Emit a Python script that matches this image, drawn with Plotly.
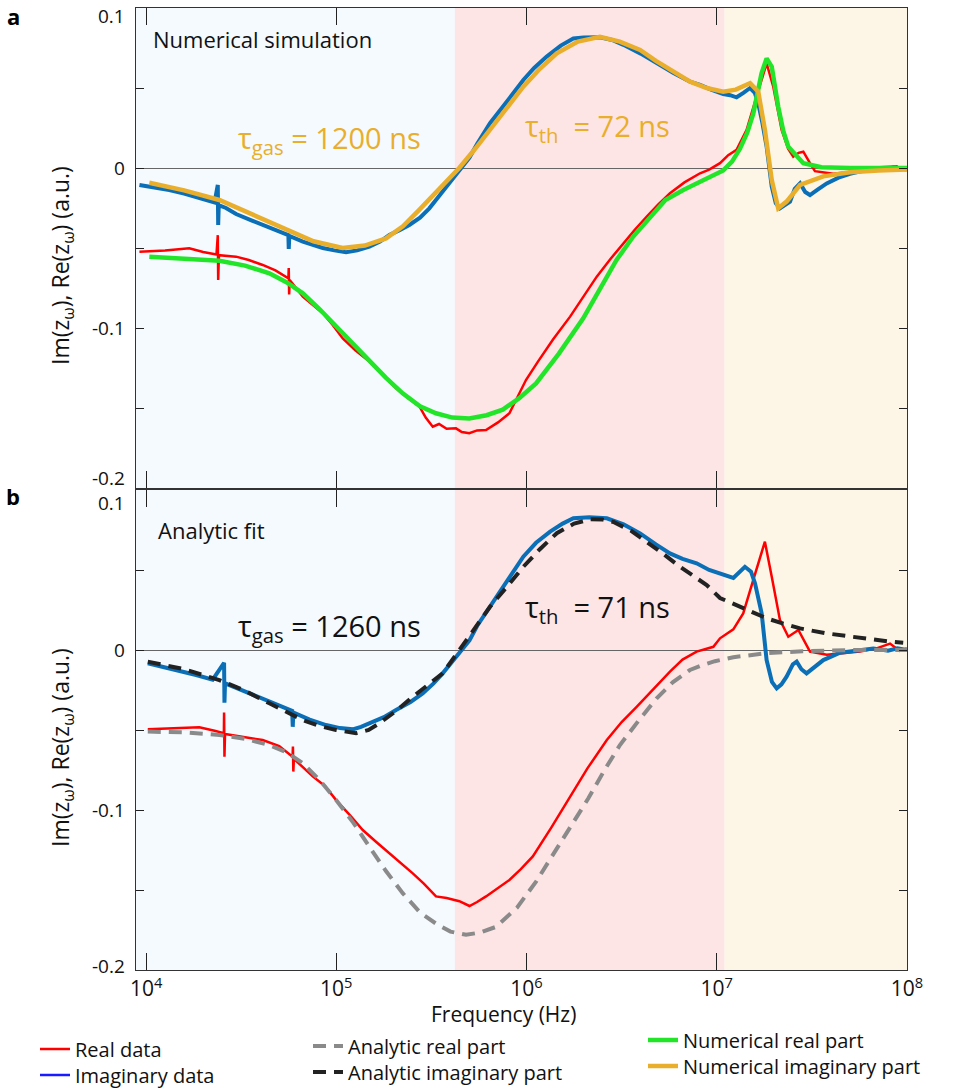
import numpy as np
import plotly.graph_objects as go

# ---------------- data (log10 of frequency in Hz, values in a.u.) ----------------
# Panel a
a_imag_logf = [3.965, 4.05, 4.122, 4.20, 4.298, 4.36, 4.377, 4.379, 4.382, 4.42, 4.473, 4.56, 4.648, 4.70,
               4.748, 4.750, 4.753, 4.824, 4.88, 4.929, 4.99, 5.051, 5.11, 5.174, 5.23, 5.279, 5.33, 5.384,
               5.44, 5.489, 5.53, 5.577, 5.62, 5.656, 5.70, 5.74, 5.808, 5.90, 5.983, 6.04, 6.106, 6.18,
               6.246, 6.30, 6.386, 6.45, 6.509, 6.60, 6.684, 6.77, 6.859, 6.912, 6.97, 7.034, 7.07, 7.104,
               7.14, 7.175, 7.20, 7.218, 7.24, 7.262, 7.289, 7.31, 7.332, 7.36, 7.385, 7.41, 7.438, 7.465,
               7.490, 7.53, 7.578, 7.64, 7.700, 7.78, 7.858, 7.93, 7.998]
a_imag_val = [-0.0106, -0.0120, -0.0138, -0.0160, -0.0190, -0.0215, -0.0106, -0.0356, -0.0232, -0.0250,
              -0.0288, -0.0330, -0.0370, -0.0395, -0.0420, -0.0506, -0.0425, -0.0460, -0.0480, -0.0500,
              -0.0515, -0.0527, -0.0515, -0.0492, -0.0460, -0.0419, -0.0390, -0.0356, -0.0310, -0.0252,
              -0.0190, -0.0117, -0.0055, 0.0, 0.0065, 0.0150, 0.0280, 0.0420, 0.0550, 0.0625, 0.0696,
              0.0765, 0.0810, 0.0815, 0.0817, 0.0800, 0.0770, 0.0715, 0.0654, 0.0595, 0.0540, 0.0520,
              0.0490, 0.0462, 0.0455, 0.0442, 0.0470, 0.0500, 0.0470, 0.0404, 0.0280, 0.0134, -0.0117,
              -0.0220, -0.0252, -0.0230, -0.0210, -0.0130, -0.0096, -0.0150, -0.0169, -0.0135, -0.0096,
              -0.0060, -0.0036, -0.0015, 0.0, 0.0005, -0.0010]

a_real_logf = [3.965, 4.10, 4.227, 4.30, 4.37, 4.377, 4.379, 4.383, 4.473, 4.54, 4.613, 4.68, 4.748, 4.750,
               4.752, 4.755, 4.824, 4.88, 4.929, 4.98, 5.034, 5.10, 5.174, 5.24, 5.314, 5.38, 5.437, 5.47,
               5.507, 5.54, 5.58, 5.629, 5.66, 5.699, 5.74, 5.787, 5.85, 5.910, 5.95, 5.997, 6.06, 6.14,
               6.229, 6.30, 6.369, 6.44, 6.509, 6.57, 6.632, 6.69, 6.754, 6.83, 6.912, 6.96, 7.017, 7.06,
               7.104, 7.157, 7.209, 7.262, 7.297, 7.341, 7.375, 7.402, 7.430, 7.455, 7.49, 7.516, 7.613,
               7.70, 7.788, 7.88, 7.946, 7.97, 8.0]
a_real_val = [-0.0523, -0.0515, -0.0502, -0.0525, -0.0540, -0.0420, -0.0700, -0.0545, -0.0554, -0.0575,
              -0.0606, -0.0640, -0.0690, -0.0625, -0.0790, -0.0700, -0.0804, -0.0860, -0.0908, -0.0980,
              -0.1065, -0.1140, -0.1210, -0.1290, -0.1377, -0.1440, -0.1490, -0.1560, -0.1617, -0.1600,
              -0.1630, -0.1627, -0.1650, -0.1658, -0.1640, -0.1638, -0.1590, -0.1533, -0.1440, -0.1325,
              -0.1210, -0.1070, -0.0929, -0.0800, -0.0679, -0.0570, -0.0470, -0.0385, -0.0304, -0.0230,
              -0.0158, -0.0090, -0.0033, -0.0010, 0.0030, 0.0080, 0.0113, 0.0238, 0.0446, 0.0654, 0.0508,
              0.0238, 0.0120, 0.0071, 0.0095, 0.0102, 0.0030, -0.0020, -0.0036, -0.0025, -0.0020, -0.0005,
              0.0010, -0.0008, -0.0005]

num_real_logf = [4.017, 4.20, 4.385, 4.52, 4.648, 4.74, 4.824, 4.91, 4.999, 5.09, 5.174, 5.26, 5.349, 5.44,
                 5.524, 5.61, 5.699, 5.79, 5.875, 5.96, 6.050, 6.17, 6.298, 6.39, 6.473, 6.56, 6.649, 6.73,
                 6.824, 6.912, 6.98, 7.034, 7.08, 7.122, 7.16, 7.192, 7.235, 7.262, 7.289, 7.323, 7.35,
                 7.376, 7.455, 7.55, 7.70, 8.0]
num_real_val = [-0.0554, -0.0565, -0.0580, -0.0610, -0.0658, -0.0715, -0.0783, -0.0880, -0.0990, -0.1100,
                -0.1200, -0.1310, -0.1408, -0.1490, -0.1533, -0.1560, -0.1565, -0.1545, -0.1510, -0.1440,
                -0.1346, -0.1160, -0.0940, -0.0750, -0.0575, -0.0430, -0.0304, -0.0200, -0.0138, -0.0085,
                -0.0044, -0.0015, 0.0040, 0.0120, 0.0220, 0.0340, 0.0590, 0.0685, 0.0633, 0.0383, 0.0230,
                0.0133, 0.0030, 0.0005, 0.0, 0.0]

num_imag_logf = [4.017, 4.20, 4.385, 4.56, 4.736, 4.88, 5.033, 5.15, 5.261, 5.35, 5.436, 5.54, 5.646, 5.73,
                 5.808, 5.90, 5.983, 6.07, 6.159, 6.27, 6.386, 6.49, 6.597, 6.68, 6.772, 6.86, 6.947, 7.034,
                 7.10, 7.175, 7.218, 7.253, 7.289, 7.323, 7.367, 7.438, 7.56, 7.70, 7.85, 8.0]
num_imag_val = [-0.0092, -0.0140, -0.0200, -0.0290, -0.0383, -0.0458, -0.0500, -0.0485, -0.0440, -0.0365,
                -0.0262, -0.0130, 0.0, 0.0120, 0.0238, 0.0380, 0.0508, 0.0620, 0.0717, 0.0790, 0.0820,
                0.0790, 0.0738, 0.0670, 0.0600, 0.0540, 0.0500, 0.0477, 0.0490, 0.0530, 0.0477, 0.0238,
                -0.0075, -0.0252, -0.0210, -0.0106, -0.0052, -0.0027, -0.0015, -0.0010]

# Panel b
b_imag_logf = [4.009, 4.13, 4.263, 4.35, 4.410, 4.412, 4.415, 4.48, 4.561, 4.67, 4.768, 4.771, 4.774, 4.86,
               4.946, 5.02, 5.086, 5.13, 5.174, 5.25, 5.314, 5.39, 5.454, 5.51, 5.559, 5.61, 5.656, 5.70,
               5.74, 5.808, 5.90, 5.983, 6.05, 6.124, 6.19, 6.246, 6.33, 6.422, 6.51, 6.597, 6.68, 6.754,
               6.82, 6.894, 6.96, 7.034, 7.087, 7.148, 7.18, 7.201, 7.236, 7.262, 7.290, 7.315, 7.34,
               7.367, 7.400, 7.420, 7.445, 7.472, 7.51, 7.560, 7.648, 7.75, 7.823, 7.90, 7.95, 8.0]
b_imag_val = [-0.0083, -0.0115, -0.0156, -0.0185, -0.0080, -0.0330, -0.0208, -0.0240, -0.0280, -0.0335,
              -0.0380, -0.0480, -0.0390, -0.0435, -0.0469, -0.0488, -0.0496, -0.0480, -0.0458, -0.0420,
              -0.0375, -0.0325, -0.0271, -0.0210, -0.0146, -0.0070, 0.0, 0.0060, 0.0150, 0.0270, 0.0440,
              0.0583, 0.0670, 0.0740, 0.0790, 0.0823, 0.0830, 0.0823, 0.0785, 0.0729, 0.0660, 0.0604,
              0.0570, 0.0542, 0.0500, 0.0469, 0.0450, 0.0520, 0.0490, 0.0417, 0.0229, -0.0063, -0.0200,
              -0.0240, -0.0215, -0.0167, -0.0090, -0.0073, -0.0120, -0.0146, -0.0110, -0.0063, -0.0017,
              -0.0003, 0.0010, -0.0005, 0.0010, 0.0]

b_real_logf = [4.009, 4.15, 4.280, 4.36, 4.409, 4.410, 4.412, 4.415, 4.50, 4.613, 4.70, 4.770, 4.772, 4.774,
               4.777, 4.876, 4.94, 4.999, 5.07, 5.139, 5.21, 5.279, 5.34, 5.402, 5.46, 5.524, 5.58, 5.647,
               5.700, 5.74, 5.787, 5.85, 5.910, 5.97, 6.033, 6.13, 6.229, 6.32, 6.422, 6.50, 6.580, 6.67,
               6.754, 6.82, 6.894, 6.982, 7.017, 7.087, 7.139, 7.192, 7.253, 7.289, 7.332, 7.376, 7.429,
               7.490, 7.578, 7.66, 7.753, 7.84, 7.911, 7.96, 8.0]
b_real_val = [-0.0496, -0.0490, -0.0483, -0.0505, -0.0520, -0.0390, -0.0667, -0.0525, -0.0540, -0.0563,
              -0.0600, -0.0667, -0.0604, -0.0760, -0.0680, -0.0790, -0.0850, -0.0938, -0.1030, -0.1125,
              -0.1200, -0.1270, -0.1330, -0.1396, -0.1460, -0.1540, -0.1550, -0.1570, -0.1600, -0.1575,
              -0.1540, -0.1490, -0.1437, -0.1370, -0.1290, -0.1110, -0.0917, -0.0740, -0.0563, -0.0450,
              -0.0354, -0.0240, -0.0135, -0.0060, -0.0010, 0.0020, 0.0073, 0.0129, 0.0229, 0.0438, 0.0677,
              0.0458, 0.0188, 0.0083, 0.0125, -0.0010, -0.0030, -0.0020, -0.0010, 0.0010, 0.0040, -0.0005,
              0.0010]

ana_real_logf = [4.009, 4.20, 4.385, 4.52, 4.648, 4.74, 4.824, 4.91, 4.999, 5.09, 5.174, 5.26, 5.349, 5.44,
                 5.524, 5.60, 5.682, 5.76, 5.840, 5.95, 6.050, 6.19, 6.325, 6.41, 6.491, 6.59, 6.684, 6.77,
                 6.859, 6.912, 6.99, 7.087, 7.18, 7.262, 7.45, 7.70, 8.0]
ana_real_val = [-0.0510, -0.0515, -0.0531, -0.0555, -0.0594, -0.0640, -0.0708, -0.0810, -0.0938, -0.1080,
                -0.1230, -0.1380, -0.1520, -0.1640, -0.1710, -0.1760, -0.1780, -0.1765, -0.1730, -0.1610,
                -0.1448, -0.1180, -0.0927, -0.0750, -0.0594, -0.0440, -0.0302, -0.0200, -0.0125, -0.0100,
                -0.0070, -0.0045, -0.0030, -0.0020, -0.0008, 0.0, 0.0]

ana_imag_logf = [4.009, 4.20, 4.385, 4.52, 4.648, 4.74, 4.824, 4.91, 4.999, 5.104, 5.17, 5.226, 5.31, 5.402,
                 5.48, 5.559, 5.647, 5.73, 5.808, 5.90, 5.983, 6.07, 6.159, 6.25, 6.334, 6.40, 6.457, 6.55,
                 6.632, 6.72, 6.807, 6.88, 6.947, 7.017, 7.087, 7.17, 7.262, 7.35, 7.438, 7.57, 7.700, 7.80,
                 7.911, 7.98]
ana_imag_val = [-0.0073, -0.0120, -0.0188, -0.0255, -0.0333, -0.0390, -0.0438, -0.0475, -0.0500, -0.0520,
                -0.0500, -0.0458, -0.0385, -0.0292, -0.0220, -0.0146, 0.0, 0.0140, 0.0270, 0.0400, 0.0520,
                0.0630, 0.0730, 0.0790, 0.0817, 0.0815, 0.0800, 0.0745, 0.0677, 0.0600, 0.0520, 0.0460,
                0.0406, 0.0325, 0.0290, 0.0245, 0.0198, 0.0165, 0.0135, 0.0105, 0.0083, 0.0068, 0.0052,
                0.0045]

# shaded frequency bands (Hz)
band_edges = [10 ** 3.947, 4.2e5, 1.1e7, 1e8]
band_colors = ["#f4fafd", "#fde5e5", "#fdf6e6"]

x_tickvals = [1e4, 1e5, 1e6, 1e7, 1e8]
x_ticktext = ["10<sup>4</sup>", "10<sup>5</sup>", "10<sup>6</sup>", "10<sup>7</sup>", "10<sup>8</sup>"]
y_tickvals = [-0.2, -0.15, -0.1, -0.05, 0.0, 0.05, 0.1]
y_label_vals = [0.1, 0.0, -0.1, -0.2]
y_label_text = ["0.1", "0", "-0.1", "-0.2"]

# ---------------- colours ----------------
C_RED = "#ff0000"
C_BLUE = "#0b6fb8"
C_GREEN = "#22e52a"
C_ORANGE = "#e9ae2b"
C_GRAY = "#8a8a8a"
C_BLACK = "#222222"
FONT = "Open Sans"


def hz(logf):
    return np.power(10.0, np.array(logf))


fig = go.Figure()

# panel a
fig.add_trace(go.Scatter(x=hz(a_real_logf), y=a_real_val, mode="lines", line=dict(color=C_RED, width=2.5),
                         xaxis="x", yaxis="y", showlegend=False))
fig.add_trace(go.Scatter(x=hz(a_imag_logf), y=a_imag_val, mode="lines", line=dict(color=C_BLUE, width=4),
                         xaxis="x", yaxis="y", showlegend=False))
fig.add_trace(go.Scatter(x=hz(num_real_logf), y=num_real_val, mode="lines", name="Numerical real part",
                         line=dict(color=C_GREEN, width=4.5), xaxis="x", yaxis="y", legend="legend5"))
fig.add_trace(go.Scatter(x=hz(num_imag_logf), y=num_imag_val, mode="lines", name="Numerical imaginary part",
                         line=dict(color=C_ORANGE, width=4.5), xaxis="x", yaxis="y", legend="legend6"))

# panel b
fig.add_trace(go.Scatter(x=hz(b_real_logf), y=b_real_val, mode="lines", name="Real data",
                         line=dict(color=C_RED, width=2.5), xaxis="x2", yaxis="y2", legend="legend"))
fig.add_trace(go.Scatter(x=hz(b_imag_logf), y=b_imag_val, mode="lines", showlegend=False,
                         line=dict(color=C_BLUE, width=4), xaxis="x2", yaxis="y2"))
fig.add_trace(go.Scatter(x=[None], y=[None], mode="lines", name="Imaginary data",
                         line=dict(color="#1a1aff", width=2.5), xaxis="x2", yaxis="y2", legend="legend2"))
fig.add_trace(go.Scatter(x=hz(ana_real_logf), y=ana_real_val, mode="lines", name="Analytic real part",
                         line=dict(color=C_GRAY, width=4, dash="13px,8px"), xaxis="x2", yaxis="y2",
                         legend="legend3"))
fig.add_trace(go.Scatter(x=hz(ana_imag_logf), y=ana_imag_val, mode="lines", name="Analytic imaginary part",
                         line=dict(color=C_BLACK, width=4, dash="13px,8px"), xaxis="x2", yaxis="y2",
                         legend="legend4"))

# geometry helpers (pixel -> paper)
L, R, T, B = 136, 48, 8, 118
W, H = 955, 1088
PW, PH = W - L - R, H - T - B


def px(x):
    return (x - L) / PW


def py(y):
    return (H - B - y) / PH


shapes = []
for xr, yr in (("x", "y domain"), ("x2", "y2 domain")):
    for i, col in enumerate(band_colors):
        shapes.append(dict(type="rect", xref=xr, yref=yr, x0=band_edges[i], x1=band_edges[i + 1], y0=0, y1=1,
                           fillcolor=col, line=dict(width=0), layer="below"))

axis_common = dict(showline=True, linecolor="#333333", linewidth=1.3, mirror="ticks", showgrid=False,
                   ticks="inside", tickcolor="#222222", tickwidth=1.3)

xa = dict(axis_common, type="log", range=[3.947, 8.0], tickvals=x_tickvals, ticktext=x_ticktext,
          ticklen=17, zeroline=False)
ya = dict(axis_common, range=[-0.2, 0.1], tickvals=y_tickvals, ticklen=8, showticklabels=False,
          zeroline=True, zerolinecolor="#666666", zerolinewidth=1)

annotations = [
    dict(text="<b>a</b>", x=px(13), y=py(16), xref="paper", yref="paper", showarrow=False,
         font=dict(size=22, color="black", family=FONT), xanchor="center", yanchor="middle"),
    dict(text="<b>b</b>", x=px(13), y=py(496), xref="paper", yref="paper", showarrow=False,
         font=dict(size=22, color="black", family=FONT), xanchor="center", yanchor="middle"),
    dict(text="Numerical simulation", x=px(151), y=py(39), xref="paper", yref="paper", showarrow=False,
         font=dict(size=22, color="#111", family=FONT), xanchor="left", yanchor="middle"),
    dict(text="Analytic fit", x=px(156), y=py(530), xref="paper", yref="paper", showarrow=False,
         font=dict(size=22, color="#111", family=FONT), xanchor="left", yanchor="middle"),
    dict(text="τ<sub>gas</sub> = 1200 ns", x=px(236), y=py(139), xref="paper", yref="paper", showarrow=False,
         font=dict(size=29, color=C_ORANGE, family=FONT), xanchor="left", yanchor="middle"),
    dict(text="τ<sub>th</sub>  = 72 ns", x=px(523), y=py(127), xref="paper", yref="paper", showarrow=False,
         font=dict(size=29, color=C_ORANGE, family=FONT), xanchor="left", yanchor="middle"),
    dict(text="τ<sub>gas</sub> = 1260 ns", x=px(236), y=py(627), xref="paper", yref="paper", showarrow=False,
         font=dict(size=29, color="#111", family=FONT), xanchor="left", yanchor="middle"),
    dict(text="τ<sub>th</sub>  = 71 ns", x=px(523), y=py(608), xref="paper", yref="paper", showarrow=False,
         font=dict(size=29, color="#111", family=FONT), xanchor="left", yanchor="middle"),
]

# y tick labels (slightly inset at the panel edges, as in the original figure)
label_offsets = {"y": {0.1: 8, 0.0: 0, -0.1: 0, -0.2: -10},
                 "y2": {0.1: 13, 0.0: 0, -0.1: 0, -0.2: -4}}
for yax in ("y", "y2"):
    for v, t in zip(y_label_vals, y_label_text):
        annotations.append(dict(text=t, x=px(127), y=v, xref="paper", yref=yax, showarrow=False,
                                yshift=-label_offsets[yax][v], xanchor="right", yanchor="middle",
                                font=dict(size=19, color="#111", family=FONT)))

ytitle = "Im(z<sub>ω</sub>), Re(z<sub>ω</sub>) (a.u.)"
for yc in (266, 748):
    annotations.append(dict(text=ytitle, x=px(62), y=py(yc), xref="paper", yref="paper", showarrow=False,
                            textangle=-90, font=dict(size=23, color="#111", family=FONT),
                            xanchor="center", yanchor="middle"))
annotations.append(dict(text="Frequency (Hz)", x=px(503), y=py(1014), xref="paper", yref="paper",
                        showarrow=False, font=dict(size=21, color="#111", family=FONT),
                        xanchor="center", yanchor="middle"))

leg_common = dict(orientation="v", xanchor="left", yanchor="middle", bgcolor="rgba(0,0,0,0)",
                  borderwidth=0, font=dict(size=20, color="#111", family=FONT), tracegroupgap=0,
                  itemwidth=30)

fig.update_layout(
    width=W, height=H,
    margin=dict(l=L, r=R, t=T, b=B, autoexpand=False),
    paper_bgcolor="white", plot_bgcolor="white",
    font=dict(family=FONT, color="#111"),
    xaxis=dict(xa, domain=[0, 1], anchor="y", showticklabels=False),
    yaxis=dict(ya, domain=[py(488), 1.0], anchor="x"),
    xaxis2=dict(xa, domain=[0, 1], anchor="y2", showticklabels=True, tickfont=dict(size=21, color="#111")),
    yaxis2=dict(ya, domain=[0.0, py(490)], anchor="x2"),
    shapes=shapes,
    annotations=annotations,
    legend=dict(leg_common, x=px(35), y=py(1049)),
    legend2=dict(leg_common, x=px(35), y=py(1075)),
    legend3=dict(leg_common, x=px(308), y=py(1046)),
    legend4=dict(leg_common, x=px(308), y=py(1072)),
    legend5=dict(leg_common, x=px(643), y=py(1040)),
    legend6=dict(leg_common, x=px(643), y=py(1066)),
)

fig.write_html("out.html", config={"displayModeBar": False},
               post_script="document.body.style.margin='0px';")
